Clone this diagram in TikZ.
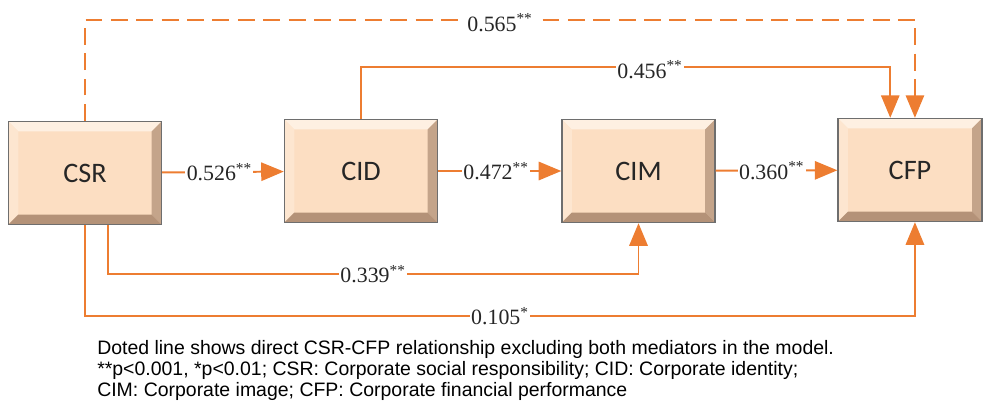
\documentclass[tikz,border=0pt]{standalone}
\usepackage{fontspec}
\setmainfont{Liberation Serif}
\newfontfamily\boxfont{Carlito}
\newfontfamily\notefont{Liberation Sans}
\usetikzlibrary{arrows.meta, positioning, calc}
\definecolor{pathorange}{RGB}{237,125,49}
\definecolor{boxface}{RGB}{252,222,194}
\definecolor{bevtop}{RGB}{254,240,226}
\definecolor{bevleft}{RGB}{253,230,208}
\definecolor{bevright}{RGB}{196,164,138}
\definecolor{bevbottom}{RGB}{180,146,120}
\definecolor{boxedge}{RGB}{110,110,110}
\tikzset{
  mod box/.style={
    rectangle, draw=boxedge, line width=1pt, fill=boxface,
    minimum width=108.5pt, minimum height=73pt,
    font=\boxfont\fontsize{20}{22}\selectfont, text=black!85,
    path picture={
      \fill[bevtop] (path picture bounding box.north west) -- (path picture bounding box.north east)
        -- ++(-7pt,-7pt) -- ([shift={(7pt,-7pt)}]path picture bounding box.north west) -- cycle;
      \fill[bevleft] (path picture bounding box.north west) -- (path picture bounding box.south west)
        -- ++(7pt,7pt) -- ([shift={(7pt,-7pt)}]path picture bounding box.north west) -- cycle;
      \fill[bevright] (path picture bounding box.north east) -- (path picture bounding box.south east)
        -- ++(-7pt,7pt) -- ([shift={(-7pt,-7pt)}]path picture bounding box.north east) -- cycle;
      \fill[bevbottom] (path picture bounding box.south west) -- (path picture bounding box.south east)
        -- ++(-7pt,7pt) -- ([shift={(7pt,7pt)}]path picture bounding box.south west) -- cycle;
    }
  },
  mod path/.style={
    draw=pathorange, line width=1.4pt,
    -{Triangle[length=16pt, width=13pt]}
  },
  mod coef/.style={
    font=\fontsize{15.5}{17}\selectfont, fill=white, inner sep=1pt, text=black!85
  }
}

\begin{document}
\begin{tikzpicture}[x=0.709pt, y=-0.709pt]
  \useasboundingbox (0,0) rectangle (985,404);
  \node (csr) [mod box] at (85,173) {CSR};
  \node (cid) [mod box] at (361,171) {CID};
  \node (cim) [mod box] at (638.5,171) {CIM};
  \node (cfp) [mod box, minimum width=102pt] at (910,170) {CFP};

  \draw [mod path] (csr) -- node[mod coef, pos=0.47] {0.526\textsuperscript{**}} (cid);
  \draw [mod path] (cid) -- node[mod coef, pos=0.47] {0.472\textsuperscript{**}} (cim);
  \draw [mod path] (cim) -- node[mod coef, pos=0.46] {0.360\textsuperscript{**}} (cfp);

  % direct effect (without mediators)
  \draw [mod path, dash pattern=on 12pt off 6pt] (csr.north) -- ++(0,-101)
    -| node[mod coef, pos=0.25, yshift=-2pt] {0.565\textsuperscript{**}} ([xshift=3.5pt]cfp.north);
  \draw [mod path] (cid.north) -- ++(0,-52)
    -| node[mod coef, pos=0.273, yshift=-2pt] {0.456\textsuperscript{**}} ([xshift=-14pt]cfp.north);
  \draw [mod path] ([xshift=16pt]csr.south) -- ++(0,49)
    -| node[mod coef, pos=0.25] {0.339\textsuperscript{**}} (cim.south);
  \draw [mod path] (csr.south) -- ++(0,91)
    -| node[mod coef, pos=0.25] {0.105\textsuperscript{*}} ([xshift=3.5pt]cfp.south);

  \node (note) [anchor=north west, align=left, inner sep=0pt,
    font=\notefont\fontsize{13.8}{14.8}\selectfont] at (97,340)
    {Doted line shows direct CSR-CFP relationship excluding both mediators in the model.\\
     **p<0.001, *p<0.01; CSR: Corporate social responsibility; CID: Corporate identity;\\
     CIM: Corporate image; CFP: Corporate financial performance};
\end{tikzpicture}
\end{document}
